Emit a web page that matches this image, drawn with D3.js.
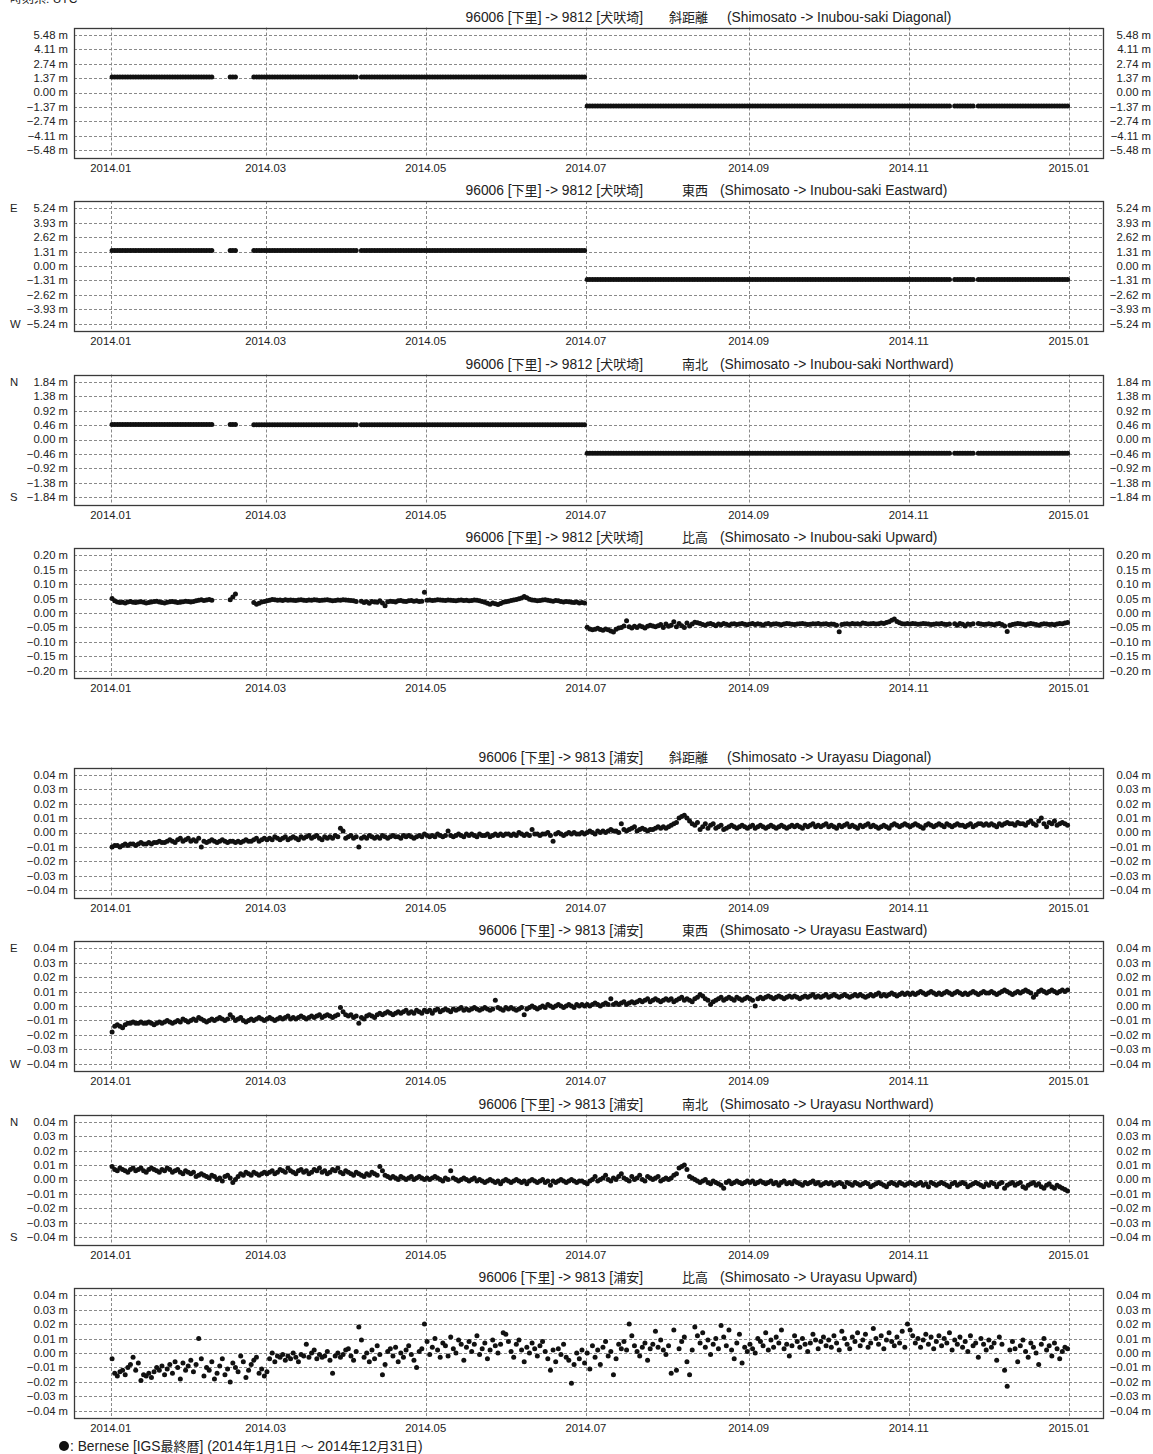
<!DOCTYPE html>
<html>
<head>
<meta charset="utf-8">
<script src="https://cdn.jsdelivr.net/npm/d3@7"></script>
<style>
  html, body { margin: 0; padding: 0; background: #fff; }
  svg { display: block; font-family: "Liberation Sans", Arial, "Noto Sans CJK JP", sans-serif; }
</style>
</head>
<body>
<svg id="chart" width="1153" height="1454"></svg>
<script>
// Daily baseline solutions for 2014, one array per month (null = no solution).
// 9812 Inubou-saki components, in centimetres (diagonal / east / north) and millimetres (up).
const inubouDiagonalCm = [
  [146,146,146,146,146,146,146,146,146,146,146,146,146,146,146,146,146,146,146,146,146,146,146,146,146,146,146,146,146,146,146],
  [146,146,146,146,146,146,146,146,null,null,null,null,null,null,146,146,146,null,null,null,null,null,null,146,146,146,146,146],
  [146,146,146,146,146,146,146,146,146,146,146,146,146,146,146,146,146,146,146,146,146,146,146,146,146,146,146,146,146,146,146],
  [146,146,146,146,null,146,146,146,146,146,146,146,146,146,146,146,146,146,146,146,146,146,146,146,146,146,146,146,146,146],
  [146,146,146,146,146,146,146,146,146,146,146,146,146,146,146,146,146,146,146,146,146,146,146,146,146,146,146,146,146,146,146],
  [146,146,146,146,146,146,146,146,146,146,146,146,146,146,146,146,146,146,146,146,146,146,146,146,146,146,146,146,146,146],
  [-128,-128,-128,-128,-128,-128,-128,-128,-128,-128,-128,-128,-128,-128,-128,-128,-128,-128,-128,-128,-128,-128,-128,-128,-128,-128,-128,-128,-128,-128,-128],
  [-128,-128,-128,-128,-128,-128,-128,-128,-128,-128,-128,-128,-128,-128,-128,-128,-128,-128,-128,-128,-128,-128,-128,-128,-128,-128,-128,-128,-128,-128,-128],
  [-128,-128,-128,-128,-128,-128,-128,-128,-128,-128,-128,-128,-128,-128,-128,-128,-128,-128,-128,-128,-128,-128,-128,-128,-128,-128,-128,-128,-128,-128],
  [-128,-128,-128,-128,-128,-128,-128,-128,-128,-128,-128,-128,-128,-128,-128,-128,-128,-128,-128,-128,-128,-128,-128,-128,-128,-128,-128,-128,-128,-128,-128],
  [-128,-128,-128,-128,-128,-128,-128,-128,-128,-128,-128,-128,-128,-128,-128,-128,null,-128,-128,-128,-128,-128,-128,-128,-128,null,-128,-128,-128,-128],
  [-128,-128,-128,-128,-128,-128,-128,-128,-128,-128,-128,-128,-128,-128,-128,-128,-128,-128,-128,-128,-128,-128,-128,-128,-128,-128,-128,-128,-128,-128,-128]
];
const inubouEastCm = [
  [140,140,140,140,140,140,140,140,140,140,140,140,140,140,140,140,140,140,140,140,140,140,140,140,140,140,140,140,140,140,140],
  [140,140,140,141,141,141,141,141,null,null,null,null,null,null,141,141,141,null,null,null,null,null,null,141,141,141,141,141],
  [141,141,141,141,141,141,141,141,141,141,141,141,141,141,141,141,141,141,141,141,141,141,141,141,141,141,141,141,141,141,141],
  [141,141,141,141,null,141,141,141,141,141,141,141,141,141,141,141,141,141,141,141,141,141,141,141,141,141,141,141,141,141],
  [141,141,141,141,141,141,141,141,141,141,141,141,141,141,141,141,141,141,141,141,141,141,141,141,141,141,141,141,141,141,141],
  [141,141,141,141,141,141,141,141,141,141,141,141,141,141,141,141,141,141,141,141,141,141,141,141,141,141,141,141,141,141],
  [-122,-122,-122,-122,-122,-122,-122,-122,-122,-122,-122,-122,-122,-122,-122,-122,-122,-122,-122,-122,-122,-122,-122,-122,-122,-122,-122,-122,-122,-122,-122],
  [-122,-122,-122,-122,-122,-122,-122,-122,-122,-122,-122,-122,-122,-122,-122,-122,-122,-122,-122,-122,-122,-122,-122,-122,-122,-122,-122,-122,-122,-122,-122],
  [-122,-122,-122,-122,-122,-122,-122,-122,-122,-122,-122,-122,-122,-122,-122,-122,-122,-122,-122,-122,-122,-122,-122,-122,-122,-122,-122,-122,-122,-122],
  [-122,-122,-122,-122,-122,-122,-122,-122,-122,-122,-122,-122,-122,-122,-122,-122,-122,-122,-122,-122,-122,-122,-122,-122,-122,-122,-122,-122,-122,-122,-122],
  [-122,-122,-122,-122,-122,-122,-122,-122,-122,-122,-122,-122,-122,-122,-122,-122,null,-122,-122,-122,-122,-122,-122,-122,-122,null,-122,-122,-122,-122],
  [-122,-122,-122,-122,-122,-122,-122,-122,-122,-122,-122,-122,-122,-122,-122,-122,-122,-122,-122,-122,-122,-122,-122,-122,-122,-122,-122,-122,-122,-122,-122]
];
const inubouNorthCm = [
  [48,48,48,48,48,48,48,48,48,48,48,48,48,48,48,48,48,48,48,48,48,48,48,48,48,48,48,48,48,48,48],
  [48,48,48,48,48,48,48,48,null,null,null,null,null,null,48,48,48,null,null,null,null,null,null,47,47,47,47,47],
  [47,47,47,47,47,47,47,47,47,47,47,47,47,47,47,47,47,47,47,47,47,47,47,47,47,47,47,47,47,47,47],
  [47,47,47,47,null,47,47,47,47,47,47,47,47,47,47,47,47,47,47,47,47,47,47,47,47,47,47,47,47,47],
  [47,47,47,47,47,47,47,47,47,47,47,47,47,47,47,47,47,47,47,47,47,47,47,47,47,47,47,47,47,47,47],
  [47,47,47,47,47,47,47,47,47,47,47,47,47,47,47,47,47,47,47,47,47,47,47,47,47,47,47,47,47,47],
  [-44,-44,-44,-44,-44,-44,-44,-44,-44,-44,-44,-44,-44,-44,-44,-44,-44,-44,-44,-44,-44,-44,-44,-44,-44,-44,-44,-44,-44,-44,-44],
  [-44,-44,-44,-44,-44,-44,-44,-44,-44,-44,-44,-44,-44,-44,-44,-44,-44,-44,-44,-44,-44,-44,-44,-44,-44,-44,-44,-44,-44,-44,-44],
  [-44,-44,-44,-44,-44,-44,-44,-44,-44,-44,-44,-44,-44,-44,-44,-44,-44,-44,-44,-44,-44,-44,-44,-44,-44,-44,-44,-44,-44,-44],
  [-44,-44,-44,-44,-44,-44,-44,-44,-44,-44,-44,-44,-44,-44,-44,-44,-44,-44,-44,-44,-44,-44,-44,-44,-44,-44,-44,-44,-44,-44,-44],
  [-44,-44,-44,-44,-44,-44,-44,-44,-44,-44,-44,-44,-44,-44,-44,-44,null,-44,-44,-44,-44,-44,-44,-44,-44,null,-44,-44,-44,-44],
  [-44,-44,-44,-44,-44,-44,-44,-44,-44,-44,-44,-44,-44,-44,-44,-44,-44,-44,-44,-44,-44,-44,-44,-44,-44,-44,-44,-44,-44,-44,-44]
];
const inubouUpMm = [
  [50,42,38,36,37,35,38,40,37,36,38,39,37,35,36,38,40,41,38,36,35,37,39,40,38,36,37,39,41,40,38],
  [40,42,44,46,43,45,47,44,null,null,null,null,null,null,46,55,66,null,null,null,null,null,null,36,30,34,38,40],
  [42,44,47,46,44,45,43,46,44,45,44,43,45,46,44,43,45,44,46,45,43,44,45,46,44,42,43,45,44,46,45],
  [44,43,42,40,null,41,36,39,34,40,38,37,42,35,25,39,41,40,38,42,43,41,40,42,43,41,42,40,41,72],
  [44,45,43,44,46,45,44,43,45,44,43,42,44,45,43,44,42,43,45,44,42,40,37,34,30,35,32,29,33,37,39],
  [41,43,45,47,49,52,57,53,48,45,44,42,43,45,46,44,42,41,43,42,40,38,40,39,37,36,38,35,36,35],
  [-49,-55,-58,-56,-53,-57,-60,-55,-58,-62,-66,-56,-52,-50,-45,-27,-48,-52,-46,-50,-44,-48,-52,-46,-42,-45,-48,-44,-40,-50,-38],
  [-46,-42,-30,-48,-36,-44,-50,-35,-45,-38,-32,-34,-36,-40,-42,-38,-36,-40,-44,-38,-41,-36,-39,-42,-38,-37,-40,-38,-36,-39,-41],
  [-38,-36,-40,-37,-39,-42,-38,-36,-40,-38,-37,-39,-41,-38,-36,-37,-39,-40,-38,-37,-36,-38,-40,-39,-37,-38,-36,-39,-38,-37],
  [-40,-38,-39,-42,-65,-40,-38,-37,-39,-36,-38,-37,-39,-35,-36,-38,-37,-36,-38,-37,-35,-36,-33,-30,-25,-21,-29,-34,-37,-38,-36],
  [-38,-36,-37,-39,-38,-36,-37,-38,-40,-39,-37,-38,-36,-39,-40,-38,null,-37,-42,-36,-39,-45,-38,-40,-37,null,-36,-38,-40,-39],
  [-37,-39,-41,-38,-36,-40,-45,-64,-42,-40,-38,-36,-37,-39,-41,-38,-36,-38,-40,-42,-39,-37,-38,-40,-39,-41,-38,-36,-37,-35,-33]
];

// 9813 Urayasu components, in millimetres.
const urayasuDiagonalMm = [
  [-10,-9,-9,-10,-9,-8,-9,-8,-8,-9,-8,-7,-8,-8,-7,-8,-7,-7,-6,-7,-7,-6,-5,-6,-7,-5,-4,-6,-5,-4,-6],
  [-5,-6,-4,-10,-6,-7,-6,-5,-6,-7,-6,-5,-6,-7,-6,-6,-7,-6,-7,-6,-5,-6,-6,-5,-4,-6,-5,-4],
  [-5,-4,-5,-3,-4,-5,-4,-3,-5,-4,-3,-4,-5,-3,-4,-3,-2,-4,-3,-2,-4,-5,-3,-4,-3,-4,-2,-3,3,1,-4],
  [-3,-2,-4,-3,-10,-4,-3,-4,-2,-3,-4,-3,-4,-2,-3,-4,-3,-2,-3,-3,-4,-2,-3,-2,-3,-4,-3,-2,-3,-1],
  [-2,-3,-2,-3,-1,-2,-3,-2,1,-2,-3,-2,-1,-2,-3,-1,-2,-1,-2,-3,-1,-2,-2,-1,-3,-2,-1,-2,-1,-2,-1],
  [-1,-2,-1,-2,0,-1,-2,-1,-2,2,-1,-1,-2,-1,-1,0,-2,-6,-1,0,-1,-2,-1,0,-1,0,-1,-1,0,-1],
  [0,1,0,-1,1,0,1,0,1,2,1,1,0,6,2,1,2,3,4,1,2,3,2,1,2,2,3,4,3,4,3],
  [4,5,6,7,10,11,12,10,8,6,5,7,2,4,6,3,5,6,3,4,5,2,3,4,5,4,3,4,5,4,3],
  [4,5,3,4,5,4,3,4,5,4,3,4,5,4,3,4,5,4,5,4,3,5,4,5,6,4,5,4,5,6],
  [4,5,4,3,5,4,5,6,4,5,4,3,5,4,5,6,4,5,4,3,4,5,4,3,5,6,5,4,5,6,5],
  [4,5,6,5,4,3,5,6,5,4,5,6,5,4,6,5,4,5,6,5,5,4,5,6,4,5,6,6,5,6],
  [5,6,5,4,6,5,6,7,6,6,5,7,6,6,5,7,8,6,5,8,10,6,4,7,6,8,5,6,7,6,5]
];
const urayasuEastMm = [
  [-18,-14,-13,-14,-15,-13,-12,-12,-11,-12,-12,-11,-12,-12,-11,-12,-13,-12,-11,-12,-11,-10,-11,-12,-11,-10,-11,-9,-10,-11,-10],
  [-9,-10,-8,-9,-10,-11,-10,-9,-10,-9,-8,-9,-10,-9,-6,-8,-10,-9,-8,-10,-11,-10,-9,-10,-9,-8,-9,-10],
  [-9,-8,-9,-10,-9,-8,-9,-8,-7,-9,-8,-9,-8,-7,-8,-9,-8,-7,-8,-7,-6,-8,-7,-6,-7,-8,-7,-6,-1,-4,-6],
  [-7,-6,-8,-7,-12,-8,-9,-7,-6,-7,-8,-6,-5,-6,-5,-4,-5,-6,-5,-4,-5,-4,-3,-5,-4,-5,-3,-4,-5,-3],
  [-4,-3,-5,-3,-2,-4,-3,-2,-3,-4,-2,-3,-2,-1,-3,-2,-3,-2,-1,-2,-3,-2,-1,-2,-3,-2,4,-1,-2,-3,-1],
  [-2,-1,-2,-3,-2,-1,-6,-2,-1,0,-1,-2,-1,0,-1,1,0,-1,0,1,0,-1,0,1,0,-1,1,0,1,0],
  [1,0,1,2,1,0,1,2,1,5,1,2,1,2,3,1,2,3,2,3,4,3,4,5,3,4,5,4,3,4,5],
  [4,5,3,4,5,6,4,5,4,3,5,6,8,7,5,4,1,3,4,5,6,4,5,6,5,4,6,5,4,5,6],
  [5,4,0,5,6,5,6,7,6,5,6,7,6,5,6,7,6,7,6,5,6,7,6,7,8,6,7,6,7,8],
  [6,7,8,7,6,7,8,7,6,7,8,7,8,7,6,7,8,7,8,9,7,8,7,8,9,8,7,8,9,8,9],
  [8,9,8,9,10,9,8,9,10,9,8,9,8,9,10,9,8,9,10,9,8,9,8,9,10,9,8,9,10,9],
  [9,10,9,8,9,10,11,10,9,8,9,10,9,10,11,10,9,6,8,10,11,10,9,10,11,10,9,10,11,10,11]
];
const urayasuNorthMm = [
  [9,7,6,8,7,6,5,7,8,6,7,8,6,5,7,8,7,6,5,7,6,8,7,5,6,7,5,4,6,5,4],
  [5,2,3,4,3,2,1,3,2,0,1,-1,2,3,1,-2,0,2,4,3,5,4,3,5,4,3,4,5],
  [4,5,6,4,5,7,6,5,8,6,5,4,6,7,5,6,4,5,7,6,8,5,6,4,5,7,6,8,5,4,6],
  [5,4,3,5,4,3,2,4,3,5,4,3,9,6,3,2,1,2,1,0,2,1,0,1,2,0,1,2,1,0],
  [1,0,1,2,1,0,-1,1,0,6,1,0,-1,0,1,0,-1,0,1,-1,0,-1,-2,-1,0,-1,-2,-1,-3,-1,0],
  [-1,-2,-1,0,-1,-2,-1,-3,-1,0,-1,-2,-1,0,-2,-1,-4,-1,-2,-1,0,-1,-2,-1,0,-1,-2,-1,-1,-2],
  [-3,-1,0,2,-1,0,1,3,0,-1,1,0,2,4,1,0,-1,2,0,1,3,0,-1,2,1,0,1,2,-1,0,1],
  [0,1,3,4,8,9,10,7,2,1,0,-1,-2,-1,0,-2,-3,-1,-2,-3,-4,-6,-2,-1,-3,-2,-1,-2,-3,-2,-1],
  [-2,-1,-3,-2,-1,-2,-3,-2,-1,-3,-2,-4,-2,-1,-3,-2,-3,-1,-2,-3,-4,-2,-3,-2,-1,-3,-2,-4,-3,-2],
  [-3,-2,-4,-3,-2,-3,-5,-2,-3,-4,-2,-3,-4,-3,-2,-3,-5,-4,-3,-2,-3,-4,-5,-3,-2,-3,-4,-2,-3,-4,-3],
  [-2,-3,-4,-3,-2,-4,-3,-5,-2,-3,-4,-3,-2,-3,-4,-5,-3,-2,-4,-3,-2,-3,-5,-4,-3,-2,-3,-4,-5,-3],
  [-4,-2,-3,-5,-3,-2,-6,-4,-3,-2,-4,-3,-2,-5,-6,-4,-3,-2,-4,-3,-5,-6,-4,-3,-5,-6,-4,-5,-6,-7,-8]
];
const urayasuUpMm = [
  [-4,-14,-16,-13,-12,-15,-10,-8,-3,-12,-7,-19,-15,-16,-14,-17,-13,-10,-12,-9,-15,-11,-8,-14,-6,-10,-18,-7,-12,-9,-5],
  [-13,-8,10,-4,-16,-10,-12,-6,-18,-14,-9,-4,-15,-11,-20,-7,-10,-13,-2,-6,-17,-12,-8,-5,-3,-14,-11,-16],
  [-13,-4,0,-6,-2,-3,-1,-5,-2,-4,0,-3,-6,-1,-2,6,-3,0,2,-4,-1,-3,-2,1,-5,-14,-2,0,-3,-1,2],
  [3,-2,-5,1,18,9,-3,0,-6,2,-4,5,-1,-15,-8,1,3,-2,4,-6,0,-3,2,5,-1,-5,-10,1,3,20],
  [8,-1,4,10,2,-3,7,5,-2,11,3,0,9,6,-5,4,8,1,6,12,-1,3,7,-4,2,9,5,0,6,14,13],
  [8,1,-3,6,9,2,-6,4,0,7,3,-2,5,8,1,-4,-12,2,-6,3,-1,6,-3,-5,-21,-8,0,-4,2,-7],
  [0,-11,5,-3,2,-8,4,8,-2,1,-15,-4,6,3,8,2,20,12,5,1,-2,4,7,-5,3,6,15,4,9,2,-1],
  [5,-14,16,-12,3,8,11,-6,-15,2,18,12,7,14,4,9,-1,6,10,3,19,11,5,16,2,-4,7,13,-7,4,1],
  [6,3,0,10,8,5,14,2,9,4,11,7,16,3,6,-2,5,12,8,4,10,6,1,7,13,9,3,8,11,5],
  [9,4,12,7,2,15,10,6,3,11,8,14,5,9,13,4,7,17,10,6,12,3,9,14,8,5,11,7,15,4,20],
  [16,12,7,10,4,9,13,6,11,3,8,12,5,10,7,14,2,9,6,11,4,8,1,12,5,7,-3,10,6,2],
  [9,4,7,-5,11,6,-12,-23,2,8,3,-6,5,9,1,-3,7,4,0,-8,6,10,2,5,-2,7,3,-4,1,4,3]
];

// Grid step (metres) of each panel's value axis.
const gridSteps = [1.37, 1.31, 0.46, 0.05, 0.01, 0.01, 0.01, 0.01];
// x-axis tick labels, every two months.
const xTickLabels = ["2014.01", "2014.03", "2014.05", "2014.07", "2014.09", "2014.11", "2015.01"];
const xTickDates = [[2014,0],[2014,2],[2014,4],[2014,6],[2014,8],[2014,10],[2015,0]];

const baselines = [
  { from: "96006 [下里]", to: "9812 [犬吠埼]", comp: "斜距離", en: "(Shimosato -> Inubou-saki Diagonal)", data: inubouDiagonalCm, unit: 0.01, hi: "", lo: "" },
  { from: "96006 [下里]", to: "9812 [犬吠埼]", comp: "東西", en: "(Shimosato -> Inubou-saki Eastward)", data: inubouEastCm, unit: 0.01, hi: "E", lo: "W" },
  { from: "96006 [下里]", to: "9812 [犬吠埼]", comp: "南北", en: "(Shimosato -> Inubou-saki Northward)", data: inubouNorthCm, unit: 0.01, hi: "N", lo: "S" },
  { from: "96006 [下里]", to: "9812 [犬吠埼]", comp: "比高", en: "(Shimosato -> Inubou-saki Upward)", data: inubouUpMm, unit: 0.001, hi: "", lo: "" },
  { from: "96006 [下里]", to: "9813 [浦安]", comp: "斜距離", en: "(Shimosato -> Urayasu Diagonal)", data: urayasuDiagonalMm, unit: 0.001, hi: "", lo: "" },
  { from: "96006 [下里]", to: "9813 [浦安]", comp: "東西", en: "(Shimosato -> Urayasu Eastward)", data: urayasuEastMm, unit: 0.001, hi: "E", lo: "W" },
  { from: "96006 [下里]", to: "9813 [浦安]", comp: "南北", en: "(Shimosato -> Urayasu Northward)", data: urayasuNorthMm, unit: 0.001, hi: "N", lo: "S" },
  { from: "96006 [下里]", to: "9813 [浦安]", comp: "比高", en: "(Shimosato -> Urayasu Upward)", data: urayasuUpMm, unit: 0.001, hi: "", lo: "" }
];

// ---- layout ----
const svg = d3.select("#chart");
const plotLeft = 74, plotRight = 1103, plotH = 130;
const panelTops = [27.5, 201, 374.5, 548, 767.5, 941, 1114.5, 1288];
const LATIN_SIZE = 13.8, CJK_SIZE = 13;

const x = d3.scaleUtc()
  .domain([new Date(Date.UTC(2013, 11, 18)), new Date(Date.UTC(2015, 0, 14))])
  .range([plotLeft, plotRight]);

const fmtM = v => {
  const s = Math.abs(v) < 1e-9 ? "0.00" : Math.abs(v).toFixed(2);
  return (v < -1e-9 ? "\u2212" : "") + s + " m";
};

function toPoints(months, unit) {
  const pts = [];
  months.forEach((days, m) => {
    days.forEach((v, i) => {
      if (v !== null) pts.push({ date: new Date(Date.UTC(2014, m, i + 1, 12)), value: v * unit });
    });
  });
  return pts;
}

// write a mixed Latin / CJK string as runs so the ideographs keep a compact width
function mixedText(sel, str) {
  const re = /([\u3000-\u9fff\uff00-\uffef]+)/;
  str.split(re).filter(s => s.length).forEach(s => {
    const cjk = re.test(s);
    sel.append("tspan").attr("font-size", cjk ? CJK_SIZE : LATIN_SIZE).text(s);
  });
  return sel;
}

svg.append("text").attr("x", 10).attr("y", 3).attr("font-size", 12).attr("fill", "#222").text("時刻系: UTC");

baselines.forEach((b, k) => {
  const top = panelTops[k];
  const step = gridSteps[k];
  const y = d3.scaleLinear().domain([-4.5 * step, 4.5 * step]).range([top + plotH, top]);
  const yTicks = d3.range(-4, 5).map(i => i * step);
  const g = svg.append("g");

  // title: station pair, component name, English description
  const ty = top - 6;
  const wide = b.comp.length > 2;
  const title = g.append("g").attr("fill", "#222");
  mixedText(title.append("text").attr("x", 643).attr("y", ty).attr("text-anchor", "end"), b.from + " -> " + b.to);
  mixedText(title.append("text").attr("x", 708).attr("y", ty).attr("text-anchor", "end"), b.comp);
  mixedText(title.append("text").attr("x", wide ? 727 : 720).attr("y", ty), b.en);

  // horizontal grid
  g.append("g").selectAll("line").data(yTicks).join("line")
    .attr("x1", plotLeft).attr("x2", plotRight)
    .attr("y1", d => Math.round(y(d)) + 0.5).attr("y2", d => Math.round(y(d)) + 0.5)
    .attr("stroke", "#8a8a8a").attr("stroke-width", 1).attr("stroke-dasharray", "3,2");

  // vertical grid
  const xt = xTickDates.map(([yy, mm]) => new Date(Date.UTC(yy, mm, 1)));
  g.append("g").selectAll("line").data(xt).join("line")
    .attr("x1", d => Math.round(x(d)) + 0.5).attr("x2", d => Math.round(x(d)) + 0.5)
    .attr("y1", top).attr("y2", top + plotH)
    .attr("stroke", "#8a8a8a").attr("stroke-width", 1).attr("stroke-dasharray", "3,2");

  // frame
  g.append("rect").attr("x", plotLeft + 0.5).attr("y", Math.round(top) + 0.5)
    .attr("width", plotRight - plotLeft).attr("height", plotH)
    .attr("fill", "none").attr("stroke", "#3a3a3a").attr("stroke-width", 1.3);

  // value labels both sides
  const lab = g.append("g").attr("font-size", 11.3).attr("fill", "#222");
  lab.selectAll("text.l").data(yTicks).join("text").attr("class", "l")
    .attr("x", 68).attr("y", d => y(d)).attr("dy", "0.35em").attr("text-anchor", "end").text(fmtM);
  lab.selectAll("text.r").data(yTicks).join("text").attr("class", "r")
    .attr("x", 1151).attr("y", d => y(d)).attr("dy", "0.35em").attr("text-anchor", "end").text(fmtM);
  if (b.hi) {
    lab.append("text").attr("x", 10).attr("y", y(yTicks[8])).attr("dy", "0.35em").text(b.hi);
    lab.append("text").attr("x", 10).attr("y", y(yTicks[0])).attr("dy", "0.35em").text(b.lo);
  }

  // date labels
  g.append("g").attr("font-size", 11.3).attr("fill", "#222")
    .selectAll("text").data(xt).join("text")
    .attr("x", d => x(d)).attr("y", top + plotH + 14).attr("text-anchor", "middle")
    .text((d, i) => xTickLabels[i]);

  // daily solutions
  g.append("g").selectAll("circle").data(toPoints(b.data, b.unit)).join("circle")
    .attr("cx", d => x(d.date)).attr("cy", d => y(d.value)).attr("r", 2.5).attr("fill", "#111");
});

// legend
const leg = svg.append("g").attr("fill", "#222");
leg.append("circle").attr("cx", 64).attr("cy", 1446).attr("r", 5).attr("fill", "#111");
mixedText(leg.append("text").attr("x", 70).attr("y", 1450.5), ": Bernese [IGS最終暦] (2014年1月1日 〜 2014年12月31日)");
</script>
</body>
</html>
